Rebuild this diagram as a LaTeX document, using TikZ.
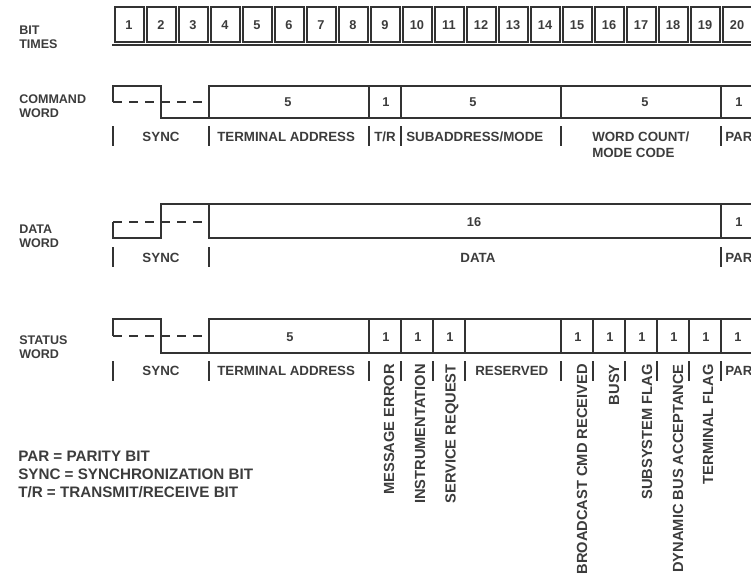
\documentclass[tikz,border=0pt]{standalone}
\usepackage{fontspec}
\setmainfont{Liberation Sans}
\usetikzlibrary{positioning}
\definecolor{lineInk}{HTML}{333333}
\definecolor{textInk}{HTML}{3C3C3C}

\begin{document}
\begin{tikzpicture}[
    x=0.75pt, y=-0.75pt,
    frame/.style={draw=lineInk, line width=1.8pt},
    cell/.style={draw=lineInk, line width=1.5pt},
    wave/.style={draw=lineInk, line width=1.8pt},
    zero/.style={draw=lineInk, line width=1.4pt, dash pattern=on 7pt off 5pt},
    tick/.style={draw=lineInk, line width=1.8pt},
    num/.style={text=textInk, inner sep=0pt, font=\bfseries\fontsize{9.6}{10}\selectfont},
    lbl/.style={text=textInk, inner sep=0pt, font=\bfseries\fontsize{10}{12}\selectfont},
    rowlbl/.style={lbl, align=left, anchor=west, font=\bfseries\fontsize{9.4}{10.5}\selectfont},
    vlbl/.style={lbl, rotate=90, anchor=east, font=\bfseries\fontsize{11}{12}\selectfont},
    key/.style={lbl, align=left, anchor=north west, font=\bfseries\fontsize{11.4}{13.5}\selectfont}
]
    \clip (0,0) rectangle (751,578);

    % bit times
    \node[rowlbl] (bittimes) at (19,37) {BIT\\TIMES};
    \foreach \i in {1,...,20} {
        \draw[cell] ({113+32*(\i-1)+1.5},7) rectangle ({113+32*\i-1.5},42);
        \node[num] (bit\i) at ({113+32*\i-16},25) {\i};
    }
    \draw[frame] (112,45) -- (760,45);

    % command word
    \node[rowlbl] (cmdname) at (19,106) {COMMAND\\WORD};
    \draw[zero] (113,102) -- (209,102);
    \draw[wave] (113,102) -- (113,86) -- (161,86) -- (161,118) -- (209,118);
    \draw[frame] (209,86) rectangle (790,118);
    \foreach \k in {8,9,14,19} \draw[frame] ({113+32*\k},86) -- ({113+32*\k},118);
    \node[num] (cmdta) at (288,102) {5};
    \node[num] (cmdtr) at (386,102) {1};
    \node[num] (cmdsa) at (473,102) {5};
    \node[num] (cmdwc) at (645,102) {5};
    \node[num] (cmdpar) at (739,102) {1};
    \foreach \k in {0,3,8,9,14,19} \draw[tick] ({113+32*\k},126) -- ({113+32*\k},146);
    \node[lbl] (cmdsync) at (161,137) {SYNC};
    \node[lbl, anchor=west] (cmdtaname) at (217,137) {TERMINAL ADDRESS};
    \node[lbl, anchor=west] (cmdtrname) at (374,137) {T/R};
    \node[lbl, anchor=west] (cmdsaname) at (406,137) {SUBADDRESS/MODE};
    \node[lbl, anchor=north west, align=left] (cmdwcname) at (592,132) {WORD COUNT/\\MODE CODE};
    \node[lbl, anchor=west] (cmdparname) at (725,137) {PAR};

    % data word
    \node[rowlbl] (dataname) at (19,236) {DATA\\WORD};
    \draw[zero] (113,222) -- (209,222);
    \draw[wave] (113,222) -- (113,238) -- (161,238) -- (161,204) -- (209,204);
    \draw[frame] (209,204) rectangle (790,238);
    \draw[frame] (721,204) -- (721,238);
    \node[num] (datafield) at (474,222) {16};
    \node[num] (datapar) at (739,222) {1};
    \foreach \k in {0,3,19} \draw[tick] ({113+32*\k},247) -- ({113+32*\k},267);
    \node[lbl] (datasync) at (161,258) {SYNC};
    \node[lbl] (dataname2) at (478,258) {DATA};
    \node[lbl, anchor=west] (dataparname) at (725,258) {PAR};

    % status word
    \node[rowlbl] (statname) at (19,347) {STATUS\\WORD};
    \draw[zero] (113,336) -- (209,336);
    \draw[wave] (113,336) -- (113,319) -- (161,319) -- (161,353) -- (209,353);
    \draw[frame] (209,319) rectangle (790,353);
    \foreach \k in {8,9,10,11,14,15,16,17,18,19} \draw[frame] ({113+32*\k},319) -- ({113+32*\k},353);
    \node[num] (statta) at (290,337) {5};
    \foreach \k in {9,10,11,15,16,17,18,19,20} \node[num] (statbit\k) at ({113+32*\k-15},337) {1};
    \foreach \k in {0,3,8,9,10,11,14,15,16,17,18,19} \draw[tick] ({113+32*\k},361) -- ({113+32*\k},381);
    \node[lbl] (statsync) at (161,371) {SYNC};
    \node[lbl, anchor=west] (stattaname) at (217,371) {TERMINAL ADDRESS};
    \node[lbl, anchor=west] (statres) at (475,371) {RESERVED};
    \node[lbl, anchor=west] (statparname) at (725,371) {PAR};
    \node[vlbl] (msgerr) at (389,364) {MESSAGE ERROR};
    \node[vlbl] (instr) at (420,364) {INSTRUMENTATION};
    \node[vlbl] (srvreq) at (452,364) {SERVICE REQUEST};
    \node[vlbl] (bcast) at (582,364) {BROADCAST CMD RECEIVED};
    \node[vlbl] (busy) at (614,364) {BUSY};
    \node[vlbl] (subsys) at (647,364) {SUBSYSTEM FLAG};
    \node[vlbl] (dynbus) at (678,364) {DYNAMIC BUS ACCEPTANCE};
    \node[vlbl] (termflag) at (708,364) {TERMINAL FLAG};

    % legend
    \node[key] (legend) at (18,451) {PAR = PARITY BIT\\SYNC = SYNCHRONIZATION BIT\\T/R = TRANSMIT/RECEIVE BIT};
\end{tikzpicture}
\end{document}
